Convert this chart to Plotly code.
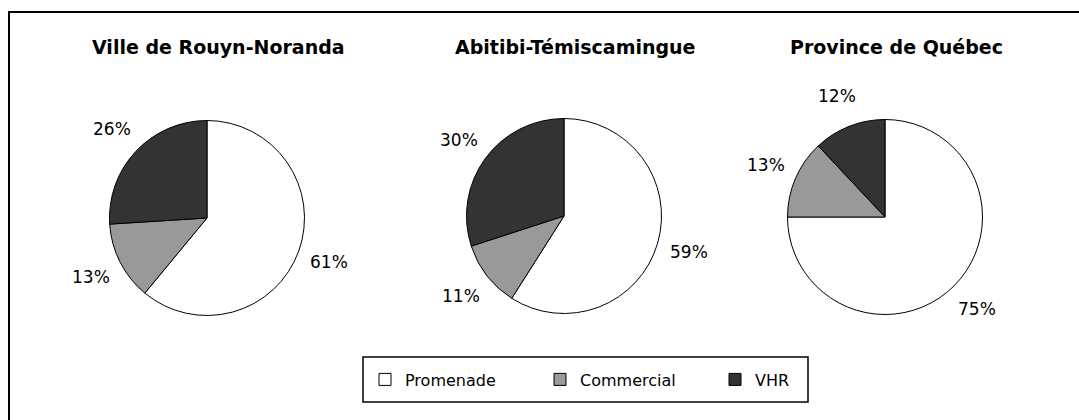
import math
import plotly.graph_objects as go

# Share of trail use by category, per territory
categories = ["Promenade", "Commercial", "VHR"]
regions = ["Ville de Rouyn-Noranda", "Abitibi-Témiscamingue", "Province de Québec"]
rouyn_noranda = [61, 13, 26]
abitibi = [59, 11, 30]
quebec = [75, 13, 12]
series = [rouyn_noranda, abitibi, quebec]

colors = ["#ffffff", "#999999", "#333333"]

W, H = 1079, 420
FONT = "DejaVu Sans"

# Pie centres and radius in pixels (y measured from the top)
centres = [(207, 218), (564, 216), (885, 217)]
radius = 97.5
label_dist = 130  # distance from centre to the percentage labels
title_y = 47
title_dx = 11     # titles sit slightly right of the pie centres

fig = go.Figure()
annotations = []

for i, (name, vals) in enumerate(zip(regions, series)):
    cx, cy = centres[i]
    x0, x1 = (cx - radius) / W, (cx + radius) / W
    y0, y1 = (H - cy - radius) / H, (H - cy + radius) / H
    fig.add_trace(go.Pie(
        labels=categories,
        values=vals,
        sort=False,
        direction="clockwise",
        rotation=0,
        marker=dict(colors=colors, line=dict(color="#000000", width=1)),
        textinfo="none",
        hoverinfo="skip",
        showlegend=(i == 0),
        domain=dict(x=[x0, x1], y=[y0, y1]),
    ))

    # Title above each pie
    annotations.append(dict(
        text=name, x=(cx + title_dx) / W, y=(H - title_y) / H,
        xref="paper", yref="paper",
        showarrow=False, xanchor="center", yanchor="middle",
        font=dict(family=FONT, size=19, color="#000000", weight="bold"),
    ))

    # Percentage labels on each slice's bisector, outside the pie
    total = sum(vals)
    cum = 0
    for v in vals:
        theta = 2 * math.pi * (cum + v / 2) / total
        cum += v
        lx = cx + label_dist * math.sin(theta)
        ly = (H - cy) + label_dist * math.cos(theta)
        annotations.append(dict(
            text=f"{round(100 * v / total)}%", x=lx / W, y=ly / H,
            xref="paper", yref="paper", showarrow=False,
            xanchor="center", yanchor="middle",
            font=dict(family=FONT, size=17, color="#000000"),
        ))

# Outer frame and legend box
legend_box = (363, 357, 808, 402)
shapes = [
    dict(type="rect", xref="paper", yref="paper",
         x0=9 / W, x1=1.05, y0=-0.05, y1=(H - 12) / H,
         line=dict(color="#000000", width=2), fillcolor="rgba(0,0,0,0)"),
    dict(type="rect", xref="paper", yref="paper",
         x0=legend_box[0] / W, x1=legend_box[2] / W,
         y0=(H - legend_box[3]) / H, y1=(H - legend_box[1]) / H,
         line=dict(color="#000000", width=1.5), fillcolor="rgba(0,0,0,0)"),
]

fig.update_layout(
    width=W, height=H,
    margin=dict(l=0, r=0, t=0, b=0),
    paper_bgcolor="#ffffff",
    plot_bgcolor="#ffffff",
    font=dict(family=FONT, size=16, color="#000000"),
    annotations=annotations,
    shapes=shapes,
    legend=dict(
        orientation="h",
        x=365 / W, xanchor="left",
        y=(H - (legend_box[1] + legend_box[3]) / 2) / H, yanchor="middle",
        bgcolor="rgba(0,0,0,0)", borderwidth=0,
        font=dict(family=FONT, size=16, color="#000000"),
        itemwidth=30,
        entrywidth=130,
        traceorder="normal",
    ),
)

fig.write_html("out.html")
